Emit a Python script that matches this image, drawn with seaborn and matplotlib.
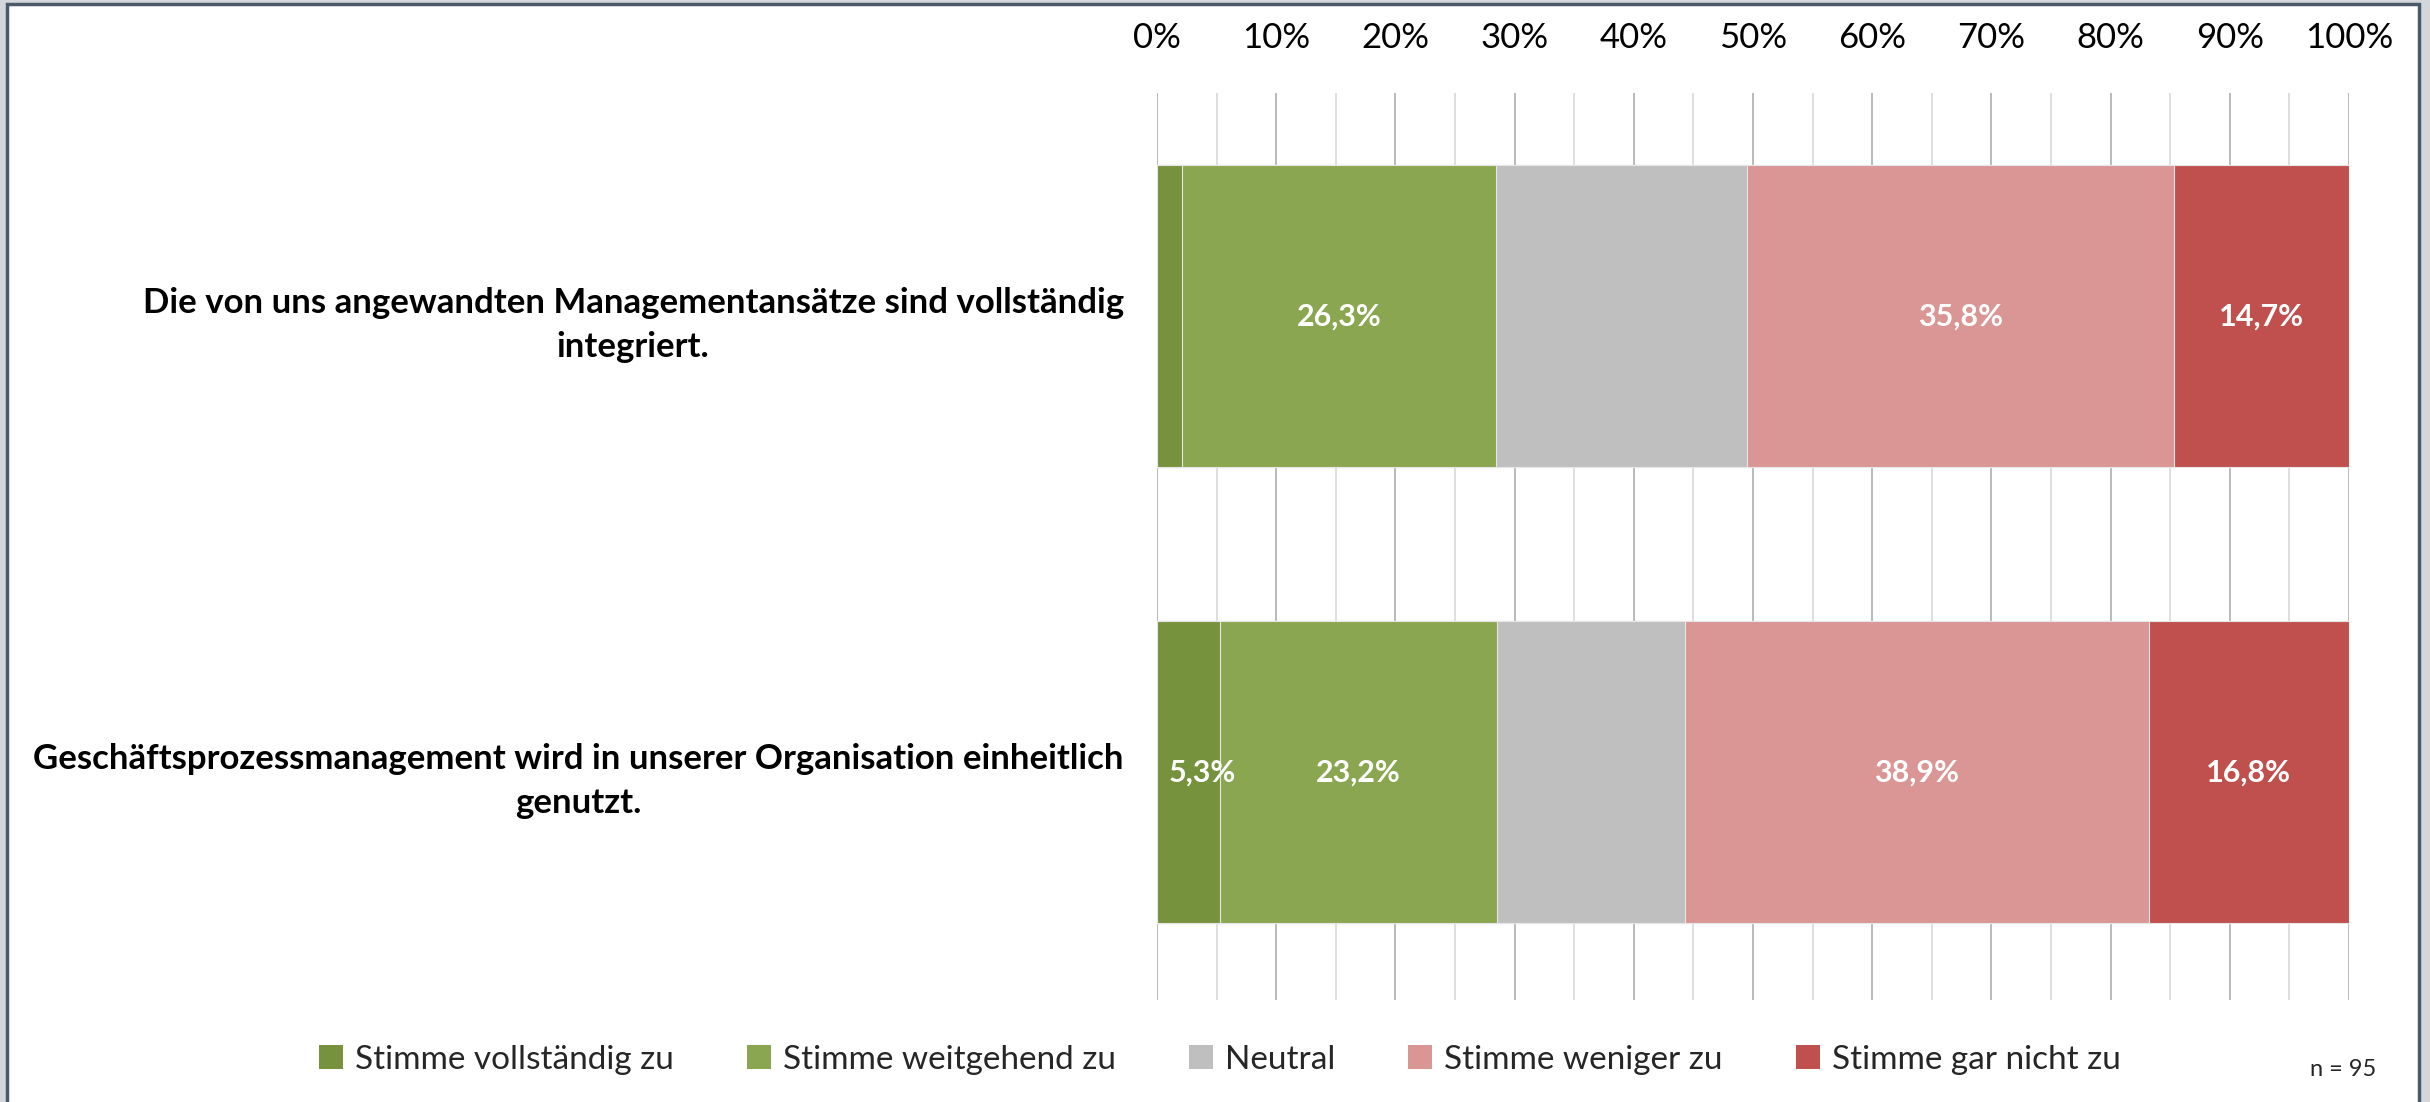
import numpy as np
import pandas as pd
import matplotlib.pyplot as plt
import seaborn as sns
from matplotlib.patches import Patch, Rectangle
from matplotlib.ticker import MultipleLocator, PercentFormatter

# --- data ---
questions = [
    "Die von uns angewandten Managementansätze sind vollständig\nintegriert.",
    "Geschäftsprozessmanagement wird in unserer Organisation einheitlich\ngenutzt.",
]
levels = [
    "Stimme vollständig zu",
    "Stimme weitgehend zu",
    "Neutral",
    "Stimme weniger zu",
    "Stimme gar nicht zu",
]
share_q1 = [2.1, 26.3, 21.1, 35.8, 14.7]
share_q2 = [5.3, 23.2, 15.8, 38.9, 16.8]
# which segments carry a value label in the original
labelled_q1 = [False, True, False, True, True]
labelled_q2 = [True, True, False, True, True]
n_total = 95

colors = ["#76923C", "#8BA650", "#BFBFBF", "#D99694", "#C0504D"]

sns.set_theme(style="white")
plt.rcParams["font.family"] = ["Lato", "DejaVu Sans"]

df = pd.DataFrame({"question": questions})
for i, lev in enumerate(levels):
    df[lev] = [share_q1[i], share_q2[i]]
cum = df[levels].cumsum(axis=1)

fig = plt.figure(figsize=(24.3, 11.02), dpi=100)
fig.patch.set_facecolor("#d3d7dc")
# the white window panel of the screenshot
fig.patches.append(Rectangle((7 / 2430, -0.01), (2419 - 7) / 2430, 1 - 4 / 1102 + 0.01,
                             transform=fig.transFigure, facecolor="white",
                             edgecolor="#4a5a68", linewidth=2.5, zorder=-10))

ax = fig.add_axes([1157 / 2430, 1 - 1000 / 1102, (2349 - 1157) / 2430, (1000 - 93) / 1102])
ax.set_zorder(2)
ax.set_facecolor("none")

# stacked bars: draw cumulative totals from the outermost segment inwards
for lev, col in zip(levels[::-1], colors[::-1]):
    sns.barplot(data=cum.assign(question=df["question"]), x=lev, y="question",
                color=col, width=0.663, edgecolor="#e6e6e6", linewidth=0.8,
                saturation=1, ax=ax, zorder=3)

# value labels
for row, (vals, flags) in enumerate([(share_q1, labelled_q1), (share_q2, labelled_q2)]):
    left = 0
    for v, show in zip(vals, flags):
        if show:
            # narrow segments: nudge the label so it stays inside the plot area
            xpos = max(left + v / 2, 3.8)
            ax.text(xpos, row, f"{v:.1f}%".replace(".", ","), ha="center",
                    va="center", color="white", fontsize=22, fontweight="bold", zorder=5)
        left += v

ax.set_xlim(0, 100)
ax.set_ylim(1.5, -0.49)
ax.xaxis.set_major_locator(MultipleLocator(10))
ax.xaxis.set_minor_locator(MultipleLocator(5))
ax.xaxis.set_major_formatter(PercentFormatter(decimals=0))
ax.xaxis.tick_top()
ax.tick_params(axis="x", which="both", length=0, pad=28, labelsize=25, colors="black")
ax.tick_params(axis="y", length=0, pad=24)
ax.grid(axis="x", which="major", color="#b4b4b4", linewidth=1.3, zorder=0)
ax.grid(axis="x", which="minor", color="#dcdcdc", linewidth=1.3, zorder=0)
ax.set_axisbelow(True)
for s in ax.spines.values():
    s.set_visible(False)
ax.set_xlabel("")
ax.set_ylabel("")
for t in ax.get_yticklabels():
    t.set_fontsize(25)
    t.set_fontweight("bold")
    t.set_multialignment("center")
    t.set_linespacing(1.45)
    t.set_color("black")

handles = [Patch(facecolor=c, edgecolor="none") for c in colors]
fig.legend(handles, levels, loc="center", bbox_to_anchor=(0.502, 1 - 1060 / 1102),
           ncol=5, frameon=False, fontsize=24, handlelength=0.72, handleheight=0.72,
           handletextpad=0.35, columnspacing=2.2)

fig.text(2343 / 2430, 1 - 1069 / 1102, f"n = {n_total}", ha="center", va="center", fontsize=17)

fig.savefig("out.png", dpi=100, facecolor=fig.get_facecolor())
